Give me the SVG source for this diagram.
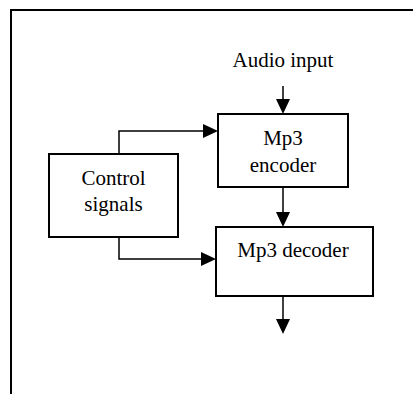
<svg xmlns="http://www.w3.org/2000/svg" width="413" height="394" viewBox="0 0 413 394">
<style>
.box{fill:#fff;stroke:#000;stroke-width:2}
.conn{fill:none;stroke:#000;stroke-width:1.5}
.t{font-family:'Liberation Serif','DejaVu Serif',serif;font-size:21px;fill:#000;text-anchor:middle}
</style>
<defs>
<marker id="arr" viewBox="0 0 15 14" refX="0" refY="7" markerWidth="15" markerHeight="14" markerUnits="userSpaceOnUse" orient="auto">
<path d="M0,0 L15,7 L0,14 Z" fill="#000"/>
</marker>
</defs>
<rect width="413" height="394" fill="#fff"/>
<rect id="frame" x="11" y="10" width="500" height="500" fill="none" stroke="#000" stroke-width="2"/>
<g id="audio-input"><text class="t" x="283" y="66.5" font-family="Liberation Serif, serif">Audio input</text></g>
<g id="encoder"><rect class="box" x="218" y="114" width="130" height="73"/><text class="t" x="283" y="145" font-family="Liberation Serif, serif">Mp3</text><text class="t" x="283" y="171.5" font-family="Liberation Serif, serif">encoder</text></g>
<g id="control"><rect class="box" x="49" y="154" width="129" height="83"/><text class="t" x="113.5" y="184.5" font-family="Liberation Serif, serif">Control</text><text class="t" x="113.5" y="211" font-family="Liberation Serif, serif">signals</text></g>
<g id="decoder"><rect class="box" x="216" y="227" width="157" height="69"/><text class="t" x="293" y="256.5" font-family="Liberation Serif, serif">Mp3 decoder</text></g>
<g id="connectors">
<path class="conn" d="M283 86 V99" marker-end="url(#arr)"/>
<path class="conn" d="M119 154 V131 H203" marker-end="url(#arr)"/>
<path class="conn" d="M119 237 V259 H201" marker-end="url(#arr)"/>
<path class="conn" d="M283 187 V212" marker-end="url(#arr)"/>
<path class="conn" d="M283 296 V319" marker-end="url(#arr)"/>
</g>
</svg>
